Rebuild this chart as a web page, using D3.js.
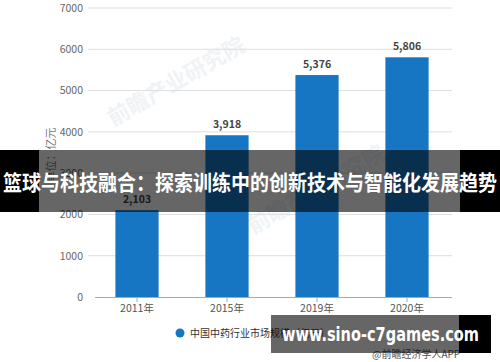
<!DOCTYPE html>
<html>
<head>
<meta charset="utf-8">
<script src="https://cdn.jsdelivr.net/npm/d3@7"></script>
<style>
  body { margin: 0; background: #fff; }
  svg { display: block; }
  text { font-family: "Noto Sans CJK SC", "Noto Sans", sans-serif; }
</style>
</head>
<body>
<div id="wrapper"></div>
<script>
const years = ["2011年", "2015年", "2019年", "2020年"];
const marketSize = [2103, 3918, 5376, 5806];
const yTicks = [0, 1000, 2000, 3000, 4000, 5000, 6000, 7000];
const seriesName = "中国中药行业市场规模（亿元）";
const unitLabel = "单位：亿元";
const bannerTitle = "篮球与科技融合：探索训练中的创新技术与智能化发展趋势";
const siteText = "www.sino-c7games.com";
const sourceText = "@前瞻经济学人APP";
const watermark = "前瞻产业研究院";

function buildPlot() {
    const dimension = { width: 500, height: 362 };
    const blue = "#1776c4";

    const svg = d3.select("#wrapper").append("svg")
        .attr("width", dimension.width)
        .attr("height", dimension.height);

    const xScaler = d3.scaleBand()
        .domain(years)
        .range([92, 452])
        .paddingInner(0.52)
        .paddingOuter(0.26);

    const yScaler = d3.scaleLinear()
        .domain([0, 7000])
        .range([297, 8]);

    // faint watermarks
    [[180, 88], [320, 196]].forEach(([cx, cy]) => {
        svg.append("text")
            .attr("transform", `translate(${cx},${cy}) rotate(-30)`)
            .attr("text-anchor", "middle")
            .attr("font-size", 22)
            .attr("font-weight", "bold")
            .attr("fill", "#f0f3f6")
            .text(watermark);
    });

    // gridlines
    svg.append("g")
        .selectAll("line")
        .data(yTicks.filter(d => d > 0))
        .join("line")
        .attr("x1", 88).attr("x2", 452)
        .attr("y1", d => yScaler(d)).attr("y2", d => yScaler(d))
        .attr("stroke", "#dedede");

    // y axis labels
    const yAxis = svg.append("g")
        .attr("transform", "translate(83,0)")
        .call(d3.axisLeft(yScaler).tickValues(yTicks).tickSize(0).tickPadding(0).tickFormat(d => d));
    yAxis.select(".domain").remove();
    yAxis.selectAll("text").attr("font-size", 10.5).attr("fill", "#666")
        .style("font-family", "'Noto Sans CJK SC', sans-serif");

    svg.append("text")
        .attr("transform", "translate(55,155) rotate(-90)")
        .attr("text-anchor", "middle")
        .attr("font-size", 11)
        .attr("fill", "#777")
        .text(unitLabel);

    // bars
    svg.append("g")
        .selectAll("rect")
        .data(marketSize)
        .join("rect")
        .attr("x", (d, i) => xScaler(years[i]))
        .attr("y", d => yScaler(d))
        .attr("width", xScaler.bandwidth())
        .attr("height", d => yScaler(0) - yScaler(d))
        .attr("fill", blue);

    svg.append("g")
        .selectAll("text")
        .data(marketSize)
        .join("text")
        .attr("x", (d, i) => xScaler(years[i]) + xScaler.bandwidth() / 2)
        .attr("y", d => yScaler(d) - 7)
        .attr("text-anchor", "middle")
        .attr("font-size", 10.5)
        .attr("font-weight", "bold")
        .attr("fill", "#444")
        .text(d => d3.format(",")(d));

    // x axis
    const xAxis = svg.append("g")
        .attr("transform", `translate(0,${yScaler(0)})`)
        .call(d3.axisBottom(xScaler).tickSize(5).tickPadding(3).tickSizeOuter(0));
    xAxis.select(".domain").attr("stroke", "#aaa").attr("d", "M95,0.5H452");
    xAxis.selectAll(".tick line").attr("stroke", "#aaa");
    xAxis.selectAll("text").attr("font-size", 10.5).attr("fill", "#555")
        .style("font-family", "'Noto Sans CJK SC', sans-serif");

    // legend
    svg.append("circle").attr("cx", 180).attr("cy", 333).attr("r", 4.5).attr("fill", blue);
    svg.append("text")
        .attr("x", 190).attr("y", 337)
        .attr("font-size", 10)
        .attr("fill", "#333")
        .text(seriesName);

    svg.append("text")
        .attr("x", 372).attr("y", 358)
        .attr("font-size", 10)
        .attr("fill", "#555")
        .text(sourceText);

    // title banner overlay
    svg.append("rect").attr("x", 0).attr("y", 150).attr("width", 500).attr("height", 62)
        .attr("fill", "#000").attr("fill-opacity", 0.6);
    svg.append("rect").attr("x", 0).attr("y", 150).attr("width", 39).attr("height", 62).attr("fill", "#000");
    svg.append("rect").attr("x", 460).attr("y", 150).attr("width", 40).attr("height", 62).attr("fill", "#000");
    svg.append("text")
        .attr("x", 3).attr("y", 190)
        .attr("textLength", 494)
        .attr("lengthAdjust", "spacingAndGlyphs")
        .attr("font-size", 21)
        .attr("font-weight", "bold")
        .attr("fill", "#fff")
        .text(bannerTitle);

    // site banner overlay
    svg.append("rect").attr("x", 271).attr("y", 315).attr("width", 220).attr("height", 38)
        .attr("fill", "#000").attr("fill-opacity", 0.6);
    svg.append("rect").attr("x", 459).attr("y", 315).attr("width", 32).attr("height", 38).attr("fill", "#000");
    svg.append("text")
        .attr("x", 282).attr("y", 341)
        .attr("textLength", 197)
        .attr("lengthAdjust", "spacingAndGlyphs")
        .attr("font-size", 20)
        .attr("font-weight", "bold")
        .attr("fill", "#fff")
        .style("font-family", "'DejaVu Sans', sans-serif")
        .text(siteText);
}

buildPlot();
</script>
</body>
</html>
